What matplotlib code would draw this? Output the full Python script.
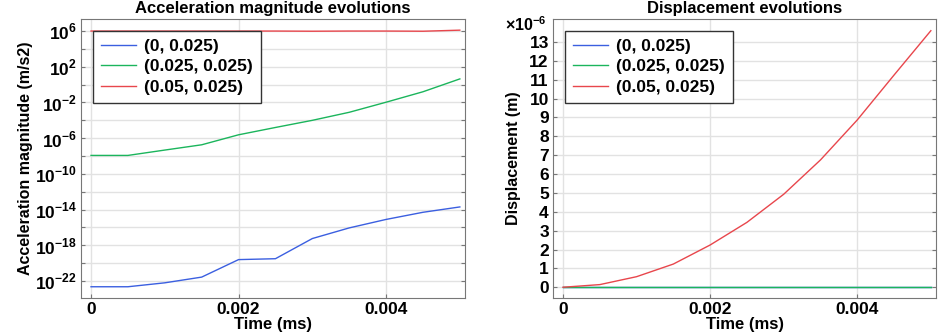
import matplotlib
matplotlib.use('Agg')
import matplotlib.pyplot as plt
import numpy as np
from matplotlib.ticker import FixedLocator, FuncFormatter

plt.rcParams['font.family'] = ['Liberation Sans', 'DejaVu Sans']
plt.rcParams['font.weight'] = 'bold'
plt.rcParams['mathtext.fontset'] = 'custom'
plt.rcParams['mathtext.rm'] = 'Liberation Sans:bold'
plt.rcParams['mathtext.bf'] = 'Liberation Sans:bold'

# Dữ liệu
time_ms = [0, 0.0005, 0.001, 0.0015, 0.002, 0.0025, 0.003, 0.0035, 0.004, 0.0045, 0.005]
labels = ['(0, 0.025)', '(0.025, 0.025)', '(0.05, 0.025)']
acc_exp_p1 = [-22.64, -22.64, -22.2, -21.56, -19.6, -19.5, -17.24, -16.05, -15.1, -14.3, -13.7]
acc_exp_p2 = [-7.93, -7.93, -7.33, -6.74, -5.62, -4.8, -4.0, -3.1, -1.97, -0.8, 0.64]
acc_exp_p3 = [6.0, 6.0, 6.0, 6.0, 6.0, 6.0, 5.98, 6.0, 6.0, 5.98, 6.1]
disp_p1 = [0, 0, 0, 0, 0, 0, 0, 0, 0, 0, 0]
disp_p2 = [0, 0, 0, 0, 0, 0, 0, 0, 0, 0, 0]
disp_p3 = [0, 0.14, 0.56, 1.23, 2.24, 3.44, 4.93, 6.75, 8.87, 11.25, 13.6]

colors = ['#3b5fe0', '#1bb55c', '#e8464c']

fig = plt.figure(figsize=(9.41, 3.35), dpi=100)
W, H = 941, 335
ax1 = fig.add_axes([81 / W, 1 - 298 / H, 384 / W, 279 / H])
ax2 = fig.add_axes([553 / W, 1 - 298 / H, 383 / W, 279 / H])

acc = [10.0 ** np.array(a) for a in (acc_exp_p1, acc_exp_p2, acc_exp_p3)]
for vals, c, lab in zip(acc, colors, labels):
    ax1.plot(time_ms, vals, color=c, lw=1, label=lab)
ax1.set_yscale('log')
ax1.set_ylim(10 ** -23.9, 10 ** 7.35)

ylog_ticks = [10.0 ** e for e in range(-22, 7, 2)]
ax1.yaxis.set_major_locator(FixedLocator(ylog_ticks))
ax1.yaxis.set_minor_locator(FixedLocator([]))


def log_fmt(v, pos):
    e = int(round(np.log10(v)))
    if (e - 6) % 4 == 0:
        return r'$10^{%d}$' % e
    return ''


ax1.yaxis.set_major_formatter(FuncFormatter(log_fmt))
ax1.set_title('Acceleration magnitude evolutions', fontsize=12, fontweight='bold', pad=4)
ax1.set_ylabel('Acceleration magnitude (m/s2)', fontsize=11.5, fontweight='bold', labelpad=1)

disp = [np.array(d) * 1e-6 for d in (disp_p1, disp_p2, disp_p3)]
for vals, c, lab in zip(disp, colors, labels):
    ax2.plot(time_ms, vals, color=c, lw=1, label=lab)
ax2.set_ylim(-0.57e-6, 14.22e-6)
ax2.set_yticks(np.arange(0, 14) * 1e-6)
ax2.yaxis.set_major_formatter(FuncFormatter(lambda v, p: '%d' % round(v * 1e6)))
ax2.set_title('Displacement evolutions', fontsize=12, fontweight='bold', pad=4)
ax2.set_ylabel('Displacement (m)', fontsize=11.5, fontweight='bold', labelpad=6)
ax2.text(-0.018, 1.012, r'$\times10^{-6}$', transform=ax2.transAxes, fontsize=11.5,
         ha='right', va='top')

for ax in (ax1, ax2):
    ax.set_xlim(-0.000136, 0.00507)
    ax.set_xticks([0, 0.002, 0.004])
    ax.set_xticklabels(['0', '0.002', '0.004'])
    ax.set_xlabel('Time (ms)', fontsize=12, fontweight='bold', labelpad=0)
    ax.grid(True, color='#e2e2e2', lw=1)
    ax.set_axisbelow(True)
    ax.tick_params(labelsize=12.5, direction='in', right=True, length=3,
                   color='#777777', pad=3)
    for s in ax.spines.values():
        s.set_color('#777777')
    for t in ax.get_xticklabels() + ax.get_yticklabels():
        t.set_fontweight('bold')
    leg = ax.legend(loc='upper left', fancybox=False, edgecolor='#333333',
                    framealpha=1, handlelength=2.0, borderaxespad=0.7,
                    borderpad=0.45, labelspacing=0.3, handletextpad=0.5,
                    prop={'weight': 'bold', 'size': 12.5})
    leg.get_frame().set_linewidth(1)

fig.savefig('out.png', dpi=100)
